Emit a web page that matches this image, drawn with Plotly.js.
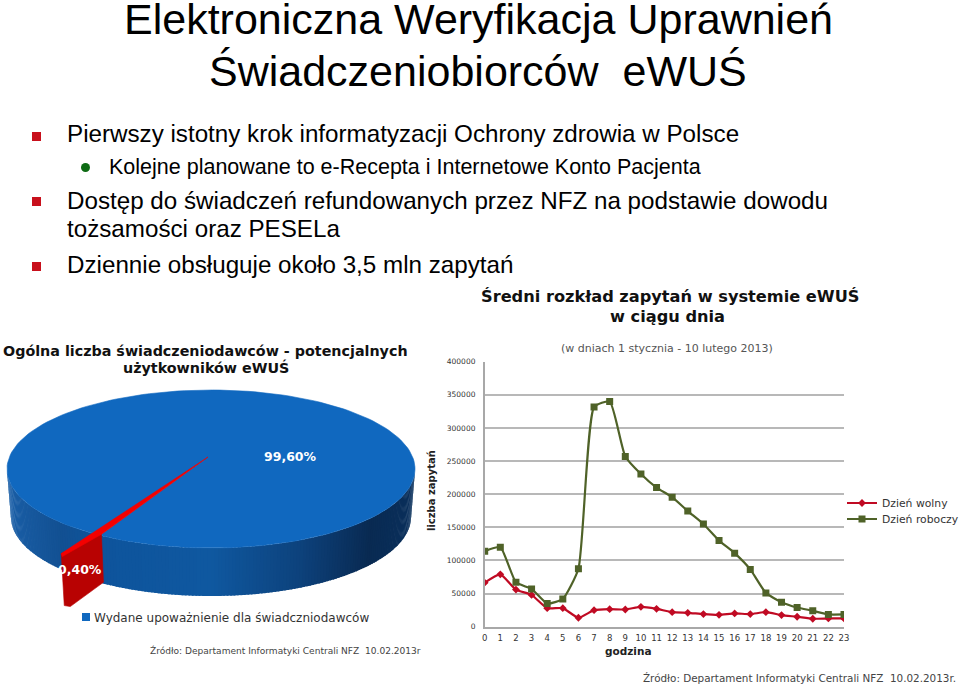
<!DOCTYPE html>
<html><head><meta charset="utf-8">
<script src="https://cdn.plot.ly/plotly-3.0.1.min.js"></script>
<style>html,body{margin:0;padding:0;background:#fff}#c{width:959px;height:686px}</style>
</head><body><div id="c"></div>
<script>
const hours = ["0","1","2","3","4","5","6","7","8","9","10","11","12","13","14","15","16","17","18","19","20","21","22","23"];
const dzienWolny = [66500,79000,56000,48000,28000,28000,13500,25000,26500,26000,30000,27000,22000,21000,19000,18000,20000,19000,22000,17500,15000,12000,12500,12500];
const dzienRoboczy = [114000,120000,67000,57000,35000,42000,87500,331500,340000,257000,230500,210000,195500,174500,155000,130000,111000,86500,51000,37000,29000,24000,18500,18500];
const yTicks = [0,50000,100000,150000,200000,250000,300000,350000,400000];
const pieLabels = ["99,60%","0,40%"];
const pieValues = [99.6,0.4];

const W=959,H=686;
const px=x=>x/W, py=y=>1-y/H;
const dark='#000';

// ---- 3D-look pie drawn through a full-page pixel axis ----
const cx=211,cy=469,rx=204,ry=79,apexX=208,apexY=457,depth=48,brx=200;
const startDeg=123; // where the small slice begins on the rim
const smallSweep=pieValues[1]/100*360;
const rad=d=>d*Math.PI/180;
const rimTop=(t,r=1)=>[cx+rx*r*Math.cos(rad(t)),cy+ry*r*Math.sin(rad(t))];
const rimBot=(t,r=1)=>[cx+brx*r*Math.cos(rad(t)),cy+depth+ry*r*Math.sin(rad(t))];
const lerp=(a,b,f)=>a+(b-a)*f;
const stops=[[7,[26,94,166]],[60,[18,80,146]],[100,[14,84,156]],[210,[15,88,160]],[300,[13,66,124]],[370,[9,42,82]],[416,[10,48,92]]];
function sideColor(x){
  for(let i=1;i<stops.length;i++){ if(x<=stops[i][0]){
    const f=(x-stops[i-1][0])/(stops[i][0]-stops[i-1][0]);
    const c=stops[i-1][1].map((v,k)=>Math.round(lerp(v,stops[i][1][k],f)));
    return `rgb(${c.join(',')})`; } }
  return 'rgb(10,48,92)';
}
const traces=[];
function poly(pts,color,lw=0.6){
  traces.push({x:pts.map(p=>p[0]),y:pts.map(p=>p[1]),xaxis:'x2',yaxis:'y2',mode:'lines',
    fill:'toself',fillcolor:color,line:{width:lw,color:color},hoverinfo:'skip',showlegend:false});
}
for(let t=0;t<180;t+=1){
  const a=rimTop(t),b=rimTop(t+1.5),c=rimBot(t+1.5),d=rimBot(t);
  poly([a,b,c,d,a],sideColor((a[0]+b[0])/2),0);
}
// blue top face: everything except the small slice
const blueTop=[[apexX,apexY]];
for(let t=startDeg+smallSweep;t<=startDeg+360;t+=2) blueTop.push(rimTop(t));
blueTop.push(rimTop(startDeg),[apexX,apexY]);
poly(blueTop,'#1068bf');
// small exploded slice
const rInner=0.986,rOuter=1.298;
const A=rimTop(startDeg+smallSweep,rOuter),B=rimTop(startDeg,rInner);
const Ab=[A[0]+3,A[1]+52],Bb=[B[0]+2,B[1]+48];
poly([A,B,Bb,[Ab[0]+6,Ab[1]+1],Ab,A],'#b80202');
poly([[apexX,apexY],B,[A[0]+1,A[1]+3],A,[apexX,apexY]],'#f40000');

// ---- line chart ----
traces.push({x:hours,y:dzienWolny,name:'Dzień wolny',mode:'lines+markers',legend:'legend',
  line:{color:'#c00a23',width:2.2,shape:'spline',smoothing:0.5},marker:{symbol:'diamond',size:6,color:'#c00a23'},hoverinfo:'x+y'});
traces.push({x:hours,y:dzienRoboczy,name:'Dzień roboczy',mode:'lines+markers',legend:'legend2',
  line:{color:'#4f6228',width:2.2,shape:'spline',smoothing:0.5},marker:{symbol:'square',size:7,color:'#4f6228'},hoverinfo:'x+y'});

function note(text,x,y,size,opt={}){
  return Object.assign({text,x:px(x),y:py(y),xref:'paper',yref:'paper',showarrow:false,xanchor:'left',yanchor:'middle',
    font:{family:'Liberation Sans',size,color:dark},borderpad:0,borderwidth:0},opt);
}
const dj=(size,color,weight=400)=>({family:'DejaVu Sans',size,color,weight});
const annotations=[
  note('Elektroniczna Weryfikacja Uprawnień',478,19,43,{xanchor:'center'}),
  note('Świadczeniobiorców  eWUŚ',478,71,43,{xanchor:'center'}),
  note('Pierwszy istotny krok informatyzacji Ochrony zdrowia w Polsce',67,134,24.2),
  note('Kolejne planowane to e-Recepta i Internetowe Konto Pacjenta',109,167,21.5),
  note('Dostęp do świadczeń refundowanych przez NFZ na podstawie dowodu',67,200,24.2),
  note('tożsamości oraz PESELa',67,229,24.2),
  note('Dziennie obsługuje około 3,5 mln zapytań',67,264,24.2),
  note('Średni rozkład zapytań w systemie eWUŚ',670,297,16.2,{xanchor:'center',font:dj(16.2,'#111',700)}),
  note('w ciągu dnia',667,316,16.2,{xanchor:'center',font:dj(16.2,'#111',700)}),
  note('(w dniach 1 stycznia - 10 lutego 2013)',667,348,11,{xanchor:'center',font:dj(11,'#555')}),
  note('Ogólna liczba świadczeniodawców - potencjalnych',205,351,14.3,{xanchor:'center',font:dj(14.3,'#111',700)}),
  note('użytkowników eWUŚ',206,367,14.3,{xanchor:'center',font:dj(14.3,'#111',700)}),
  note(pieLabels[0],290,457,12.5,{xanchor:'center',font:dj(12.5,'#fff',600)}),
  note(pieLabels[1],80,569,12.5,{xanchor:'center',font:dj(12.5,'#fff',600)}),
  note('Wydane upoważnienie dla świadczniodawców',94,618,12,{font:dj(12,'#333')}),
  note('Źródło: Departament Informatyki Centrali NFZ  10.02.2013r',150,650,9.06,{font:dj(9.06,'#444')}),
  note('Źródło: Departament Informatyki Centrali NFZ  10.02.2013r.',643,678,10.4,{font:dj(10.4,'#444')}),
  note('liczba zapytań',432,491,10,{xanchor:'center',textangle:-90,font:dj(10,'#222',700)}),
  note('godzina',628,651,10.5,{xanchor:'center',font:dj(10.5,'#222',700)})
];
const sq=(x,y,s,c)=>({type:'rect',xref:'paper',yref:'paper',x0:px(x),x1:px(x+s),y0:py(y),y1:py(y+s),fillcolor:c,line:{width:0}});
const shapes=[
  sq(32,132,9,'#c8101c'),sq(32,197,9,'#c8101c'),sq(32,262,9,'#c8101c'),
  {type:'circle',xref:'paper',yref:'paper',x0:px(81),x1:px(90),y0:py(163),y1:py(172),fillcolor:'#0e6b14',line:{width:0}},
  sq(82,613,8,'#1068bf')
];
const legendBase=y=>({x:px(842),y:py(y),xanchor:'left',yanchor:'middle',bgcolor:'rgba(0,0,0,0)',font:dj(10.8,'#333'),itemwidth:30,borderwidth:0});
const layout={width:W,height:H,margin:{l:0,r:0,t:0,b:0,autoexpand:false},paper_bgcolor:'#fff',plot_bgcolor:'rgba(0,0,0,0)',
  xaxis:{domain:[px(484.7),px(844)],type:'category',range:[0,23],showgrid:false,showline:true,linecolor:'#a8a8a8',linewidth:1.5,
    ticks:'',tickfont:dj(8.5,'#333'),tickangle:0,fixedrange:true,zeroline:false,ticklabelstandoff:2},
  yaxis:{domain:[py(626.7),py(361.7)],range:[0,400000],tickvals:yTicks,ticktext:yTicks.map(String),showgrid:true,gridcolor:'#b8b8b8',gridwidth:1.6,
    showline:true,linecolor:'#a8a8a8',linewidth:1.5,zeroline:false,ticks:'',tickfont:dj(7.5,'#333'),fixedrange:true,ticklabelstandoff:6},
  xaxis2:{domain:[0,1],range:[0,W],visible:false,anchor:'y2',fixedrange:true},
  yaxis2:{domain:[0,1],range:[H,0],visible:false,anchor:'x2',fixedrange:true},
  legend:legendBase(503),legend2:legendBase(519),
  annotations,shapes,showlegend:true,hovermode:'closest'};
Plotly.newPlot('c',traces,layout,{displayModeBar:false,responsive:false});
</script></body></html>
